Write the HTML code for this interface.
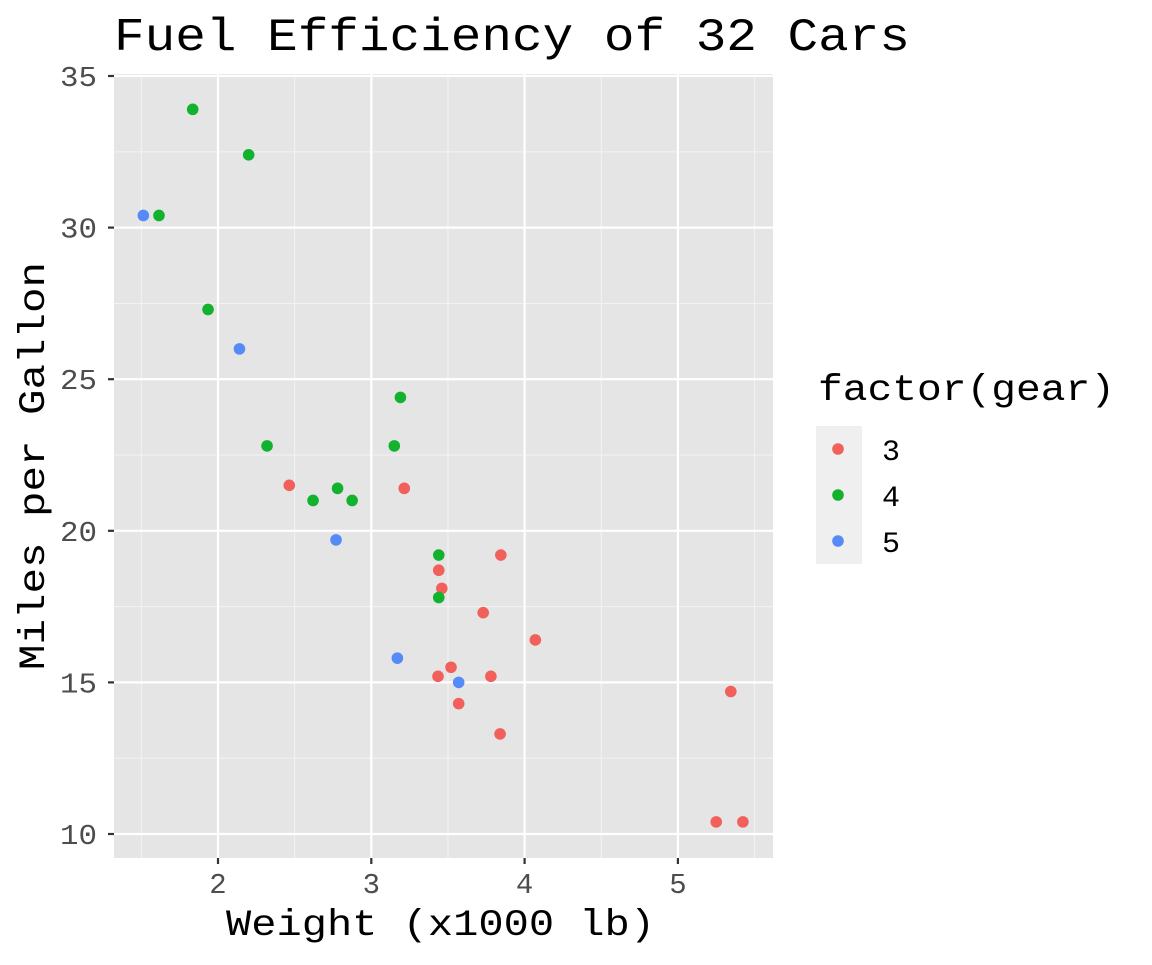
<!DOCTYPE html>
<html><head><meta charset="utf-8"><style>
html,body{margin:0;padding:0;background:#fff;}
svg text{font-family:"Liberation Mono","DejaVu Sans Mono",monospace;}
</style></head><body>
<svg id="chart" width="1152" height="960" xmlns="http://www.w3.org/2000/svg">
<text x="114" y="50" font-size="46" textLength="796" lengthAdjust="spacingAndGlyphs" fill="#000">Fuel Efficiency of 32 Cars</text>
<rect x="114" y="74" width="659" height="784" fill="#E5E5E5"/>
<g id="grid"></g><g id="pts"></g><g id="axes"></g>
<text x="226" y="935" font-size="37" textLength="429" lengthAdjust="spacingAndGlyphs" fill="#000">Weight (x1000 lb)</text>
<text transform="translate(44,670) rotate(-90)" font-size="37" textLength="408" lengthAdjust="spacingAndGlyphs" fill="#000">Miles per Gallon</text>
<text x="818" y="400" font-size="37" textLength="297" lengthAdjust="spacingAndGlyphs" fill="#000">factor(gear)</text>
<rect x="816" y="426" width="46" height="138" fill="#EFEFEF"/>
<g id="legend"></g>
</svg>
<script>
const wt=[2.620,2.875,2.320,3.215,3.440,3.460,3.570,3.190,3.150,3.440,3.440,4.070,3.730,3.780,5.250,5.424,5.345,2.200,1.615,1.835,2.465,3.520,3.435,3.840,3.845,1.935,2.140,1.513,3.170,2.770,3.570,2.780];
const mpg=[21.0,21.0,22.8,21.4,18.7,18.1,14.3,24.4,22.8,19.2,17.8,16.4,17.3,15.2,10.4,10.4,14.7,32.4,30.4,33.9,21.5,15.5,15.2,13.3,19.2,27.3,26.0,30.4,15.8,19.7,15.0,21.4];
const gear=[4,4,4,3,3,3,3,4,4,4,4,3,3,3,3,3,3,4,4,4,3,3,3,3,3,4,5,5,5,5,5,4];
const xTicks=[2,3,4,5];
const yTicks=[10,15,20,25,30,35];
const gearLevels=[3,4,5];
const colors={3:"#F1605A",4:"#12B22F",5:"#568AF8"};
const NS="http://www.w3.org/2000/svg";
const X=v=>218+(v-2)*153.3;
const Y=v=>834-(v-10)*30.32;
function mk(tag,attrs,parent){const e=document.createElementNS(NS,tag);for(const k in attrs)e.setAttribute(k,attrs[k]);document.getElementById(parent).appendChild(e);return e;}
for(let i=0;i<xTicks.length+1;i++){const v=xTicks[0]-0.5+i;const l=mk('line',{x1:X(v),x2:X(v),y1:74,y2:858,stroke:'#F2F2F2','stroke-width':1.1},'grid');

}
for(let i=0;i<yTicks.length-1;i++){const v=yTicks[i]+2.5;const l=mk('line',{x1:114,x2:773,y1:Y(v),y2:Y(v),stroke:'#F2F2F2','stroke-width':1.1},'grid');

}
xTicks.forEach(v=>{const l=mk('line',{x1:X(v),x2:X(v),y1:74,y2:858,stroke:'#fff','stroke-width':2.2},'grid');


const t=mk('line',{x1:X(v),x2:X(v),y1:858,y2:864,stroke:'#333','stroke-width':2.2},'axes');


const tx=mk('text',{x:X(v),y:893,'font-size':29,'text-anchor':'middle',fill:'#4D4D4D'},'axes');tx.textContent=v;

});
yTicks.forEach(v=>{const l=mk('line',{x1:114,x2:773,y1:Y(v),y2:Y(v),stroke:'#fff','stroke-width':2.2},'grid');


const t=mk('line',{x1:108,x2:114,y1:Y(v),y2:Y(v),stroke:'#333','stroke-width':2.2},'axes');


const tx=mk('text',{x:60,y:Y(v)+10,'font-size':29,textLength:37,lengthAdjust:'spacingAndGlyphs',fill:'#4D4D4D'},'axes');tx.textContent=v;

});
wt.forEach((w,i)=>{const c=mk('circle',{cx:X(w),cy:Y(mpg[i]),r:5.8,fill:colors[gear[i]]},'pts');

});
gearLevels.forEach((g,i)=>{const c=mk('circle',{cx:838,cy:449+i*46,r:5.8,fill:colors[g]},'legend');


const t=mk('text',{x:882,y:460+i*46,'font-size':30,fill:'#000'},'legend');t.textContent=g;

});
</script>
</body></html>
